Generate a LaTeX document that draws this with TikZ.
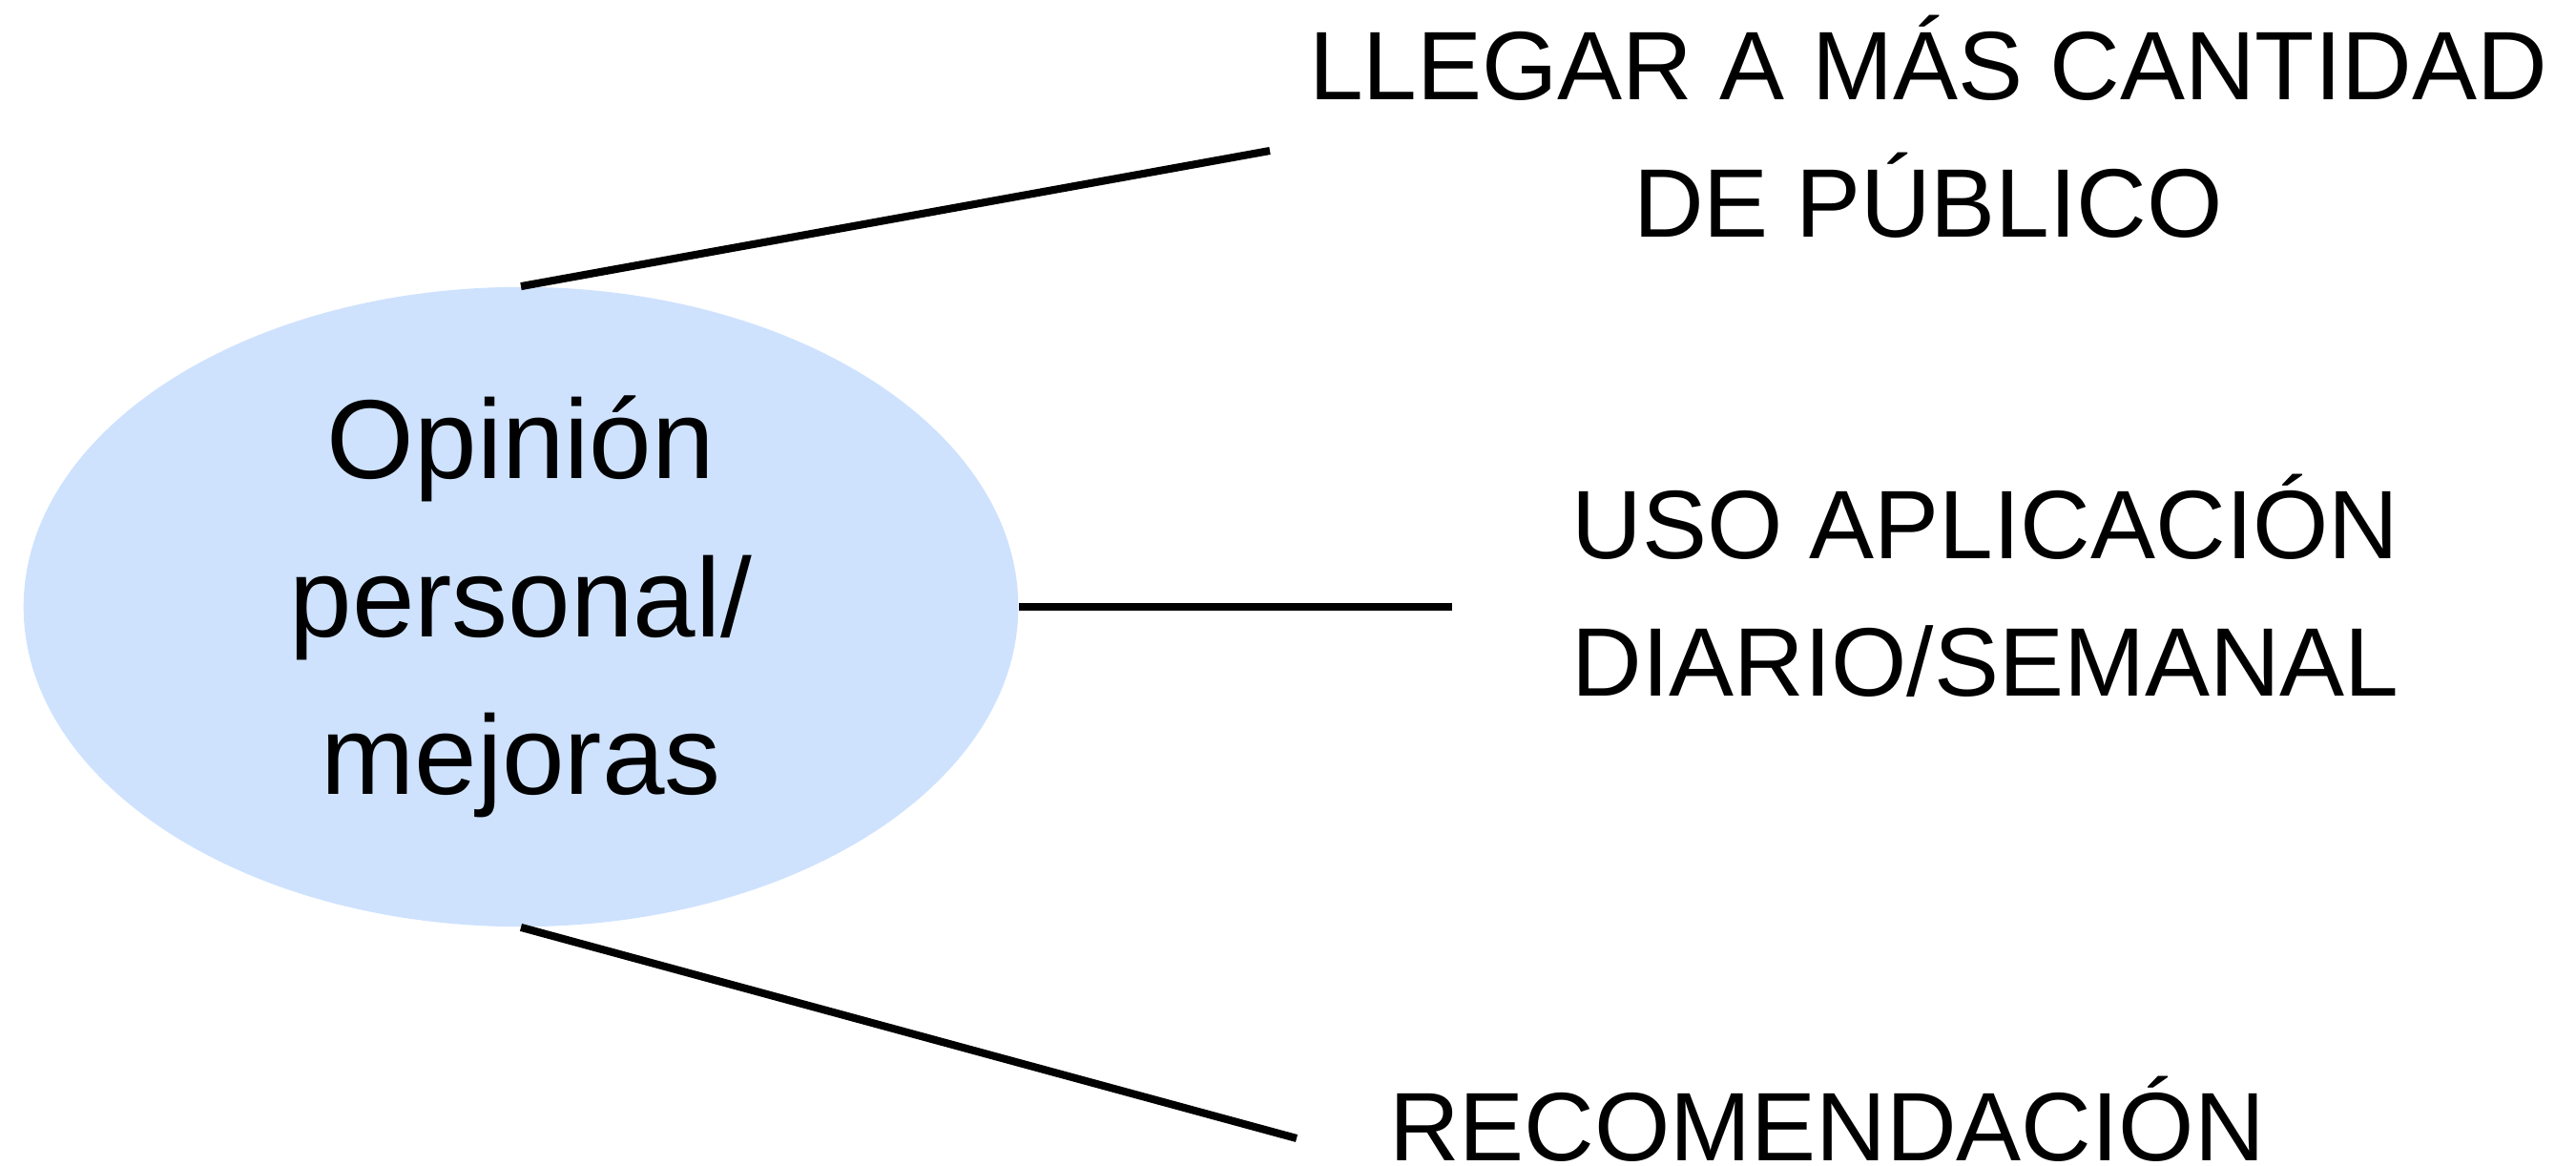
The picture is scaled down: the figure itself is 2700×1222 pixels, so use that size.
\documentclass[tikz,border=0pt]{standalone}
\usepackage{fontspec}
\setmainfont{Liberation Sans}
\usetikzlibrary{shapes.geometric}
\definecolor{bubbleblue}{HTML}{CEE2FE}

\begin{document}
\begin{tikzpicture}[x=0.01cm, y=-0.01cm,
    spoke/.style={line width=2.3pt},
    topic/.style={align=center, inner sep=0pt, font=\fontsize{29}{41}\selectfont}]
  \useasboundingbox (0,0) rectangle (2700,1222);
  % central bubble
  \node[ellipse, fill=bubbleblue, minimum width=10.42cm, minimum height=6.70cm,
        inner sep=0pt, align=center, font=\fontsize{33.5}{47}\selectfont]
        (opinion) at (546,636) {Opinión\\personal/\\mejoras};
  % topics
  \node[topic] (publico) at (2021,133) {LLEGAR A MÁS CANTIDAD\\DE PÚBLICO};
  \node[topic] (uso) at (2081,614) {USO APLICACIÓN\\DIARIO/SEMANAL};
  \node[topic, anchor=base] (recomendacion) at (1915,1216) {RECOMENDACIÓN};
  % free ends of the spokes
  \coordinate (publicoend) at (1331,158);
  \coordinate (usoend) at (1522,636);
  \coordinate (recomendacionend) at (1359,1193);
  \draw[spoke] (opinion.north) -- (publicoend);
  \draw[spoke] (opinion.east) -- (usoend);
  \draw[spoke] (opinion.south) -- (recomendacionend);
\end{tikzpicture}
\end{document}
